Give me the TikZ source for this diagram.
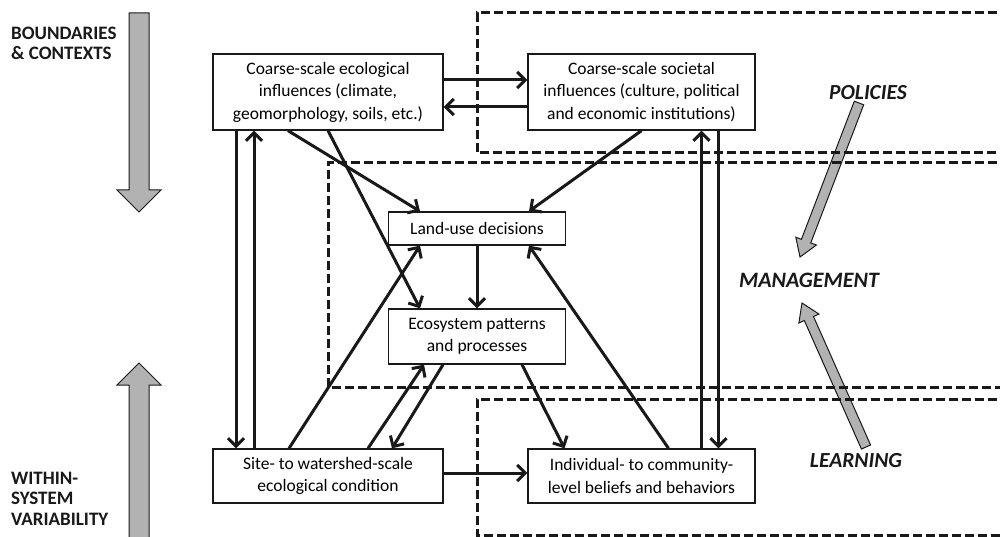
\documentclass[tikz,border=0pt]{standalone}
\usepackage{fontspec}
\setmainfont{Carlito}
\usetikzlibrary{arrows.meta}
\usetikzlibrary{calc}
\tikzstyle{box}=[draw=black!90, line width=1.3pt, fill=white, align=center, inner sep=0pt, font=\fontsize{17.5}{22.5}\selectfont]
\tikzstyle{edge}=[draw=black!90, line width=3pt, -{Straight Barb[length=8pt,width=16pt,line width=3pt]}]
\tikzstyle{boundary}=[draw=black!90, line width=3pt, dash pattern=on 9pt off 4pt]
\tikzstyle{bigarrow}=[draw=black!90, line width=1pt, fill=gray!60, line join=miter]
\tikzstyle{sidelabel}=[font=\fontsize{19}{20.5}\selectfont\bfseries, text=black!90, align=left, anchor=west, inner sep=0pt]
\tikzstyle{actlabel}=[font=\fontsize{21.5}{24}\selectfont\bfseries\itshape, text=black!90, inner sep=0pt]
% gray block arrow: from, tip, shaft half width, head half width, head length
\newcommand{\grayarrow}[5]{%
  \path[bigarrow] ($(#1)!#3!90:(#2)$) -- ($(#2)!#5!(#1)!#3!90:(#2)$)
    -- ($(#2)!#5!(#1)!#4!90:(#2)$) -- (#2)
    -- ($(#2)!#5!(#1)!#4!-90:(#2)$) -- ($(#2)!#5!(#1)!#3!-90:(#2)$)
    -- ($(#1)!#3!-90:(#2)$) -- cycle;}

\begin{document}
\begin{tikzpicture}[x=1pt, y=-1pt]
    \clip (0,0) rectangle (1000,537);

    % Gray arrows: scales and feedback
    \grayarrow{139,13}{139,212}{10pt}{22pt}{22pt}
    \grayarrow{139,545}{139,363}{10pt}{22pt}{22pt}
    \grayarrow{859,103}{800,257}{5pt}{11pt}{17pt}
    \grayarrow{866,447}{802,303}{5pt}{11pt}{17pt}

    % Dashed domains
    \draw[boundary] (1010,13) -| (477,153) -- (1010,153);
    \draw[boundary] (1010,163) -| (328,387) -- (1010,387);
    \draw[boundary] (1010,399) -| (477,535) -- (1010,535);

    % Boxes
    \foreach \pos/\name/\bw/\bh/\label in {
        {(328,92)/eco/230/76/{Coarse-scale ecological\\influences (climate,\\geomorphology, soils, etc.)}},
        {(641.5,92)/soc/227/76/{Coarse-scale societal\\influences (culture, political\\and economic institutions)}},
        {(477,228.5)/land/177/33/{Land-use decisions}},
        {(477,336.5)/ecosys/177/55/{Ecosystem patterns\\and processes}},
        {(328,476)/site/230/54/{Site- to watershed-scale\\ecological condition}},
        {(641.5,476)/indiv/227/54/{Individual- to community-\\level beliefs and behaviors}}}
        \node[box, minimum width=\bw pt, minimum height=\bh pt] (\name) at \pos {\label};

    % Downward links
    \foreach \source/\sx/\dest/\dx in {eco/-92/site/-92, eco/-40/land/-57, eco/0/ecosys/-57,
        soc/0/land/52, land/0/ecosys/0, ecosys/-34/site/64, ecosys/45/indiv/-77, soc/77/indiv/77}
        \path[edge] ([xshift=\sx pt]\source.south) -- ([xshift=\dx pt]\dest.north);

    % Upward links
    \foreach \source/\sx/\dest/\dx in {site/-74/eco/-74, site/-39/land/-57, site/40/ecosys/-53,
        indiv/27/land/52, indiv/60/soc/60}
        \path[edge] ([xshift=\sx pt]\source.north) -- ([xshift=\dx pt]\dest.south);

    % Sideways links
    \path[edge] ([yshift=12pt]eco.east) -- ([yshift=12pt]soc.west);
    \path[edge] ([yshift=-15pt]soc.west) -- ([yshift=-15pt]eco.east);
    \path[edge] ([yshift=3pt]site.east) -- ([yshift=3pt]indiv.west);

    % Labels
    \node[sidelabel] (bounds) at (11,43.5) {BOUNDARIES\\\& CONTEXTS};
    \node[sidelabel] (within) at (11,498.5) {WITHIN-\\SYSTEM\\VARIABILITY};
    \node[actlabel] (policies) at (868,93) {POLICIES};
    \node[actlabel, font=\fontsize{22}{24}\selectfont\bfseries\itshape] (management) at (809,280) {MANAGEMENT};
    \node[actlabel] (learning) at (856,461) {LEARNING};

\end{tikzpicture}
\end{document}
